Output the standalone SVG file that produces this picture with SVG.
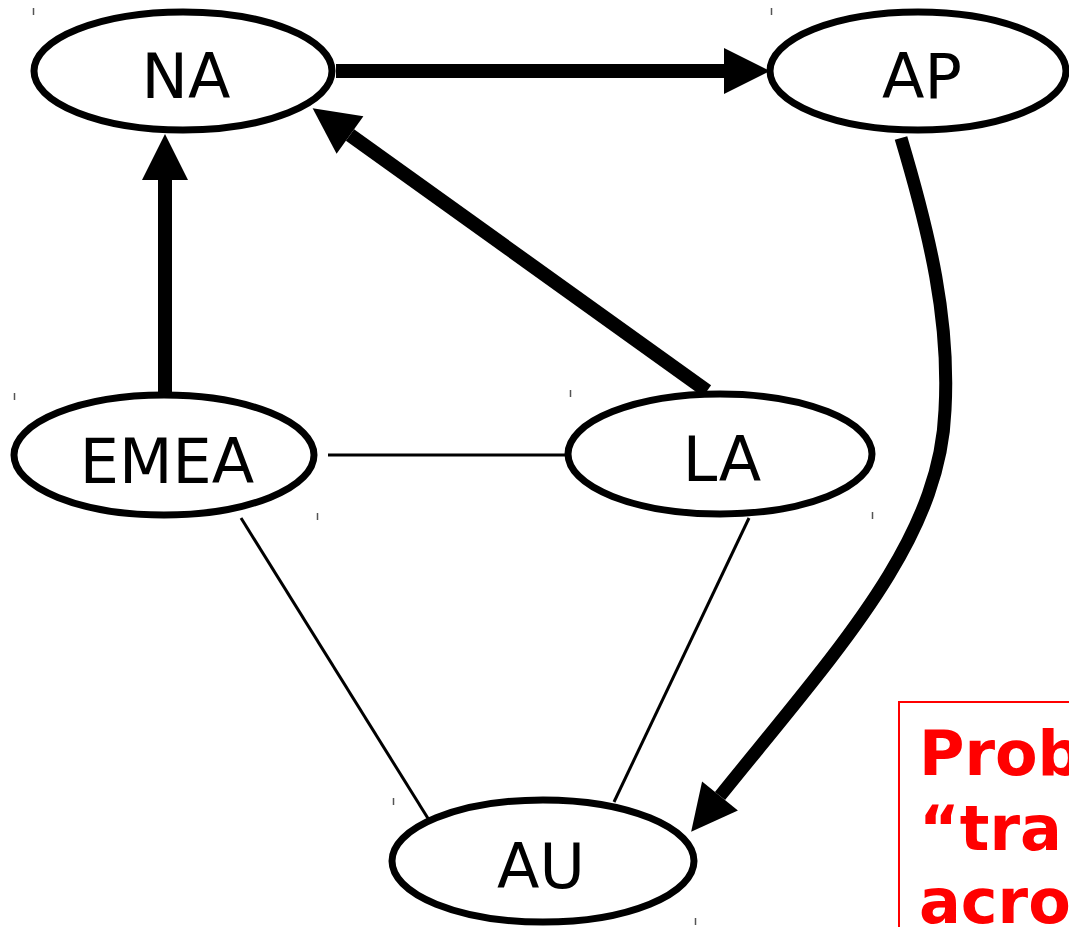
<svg xmlns="http://www.w3.org/2000/svg" width="1069" height="927" viewBox="0 0 1069 927">
<style>
.node ellipse{fill:#fff;stroke:#000;stroke-width:7}
.node text{font-family:"DejaVu Sans","Liberation Sans",sans-serif;font-size:62px;fill:#000;text-anchor:middle}
.tick{stroke:#555;stroke-width:1.5}
.thick{stroke:#000;stroke-width:14;fill:none}
.thin{stroke:#000;stroke-width:3;fill:none}
.note{font-family:"DejaVu Sans","Liberation Sans",sans-serif;font-size:62px;font-weight:bold;fill:#f00}
</style>
<defs>
<marker id="arr" markerUnits="userSpaceOnUse" markerWidth="48" markerHeight="48" refX="0" refY="23" orient="auto" overflow="visible">
<path d="M0,0 L46,23 L0,46 z" fill="#000"/>
</marker>
</defs>
<rect width="1069" height="927" fill="#fff"/>
<g id="ticks">
<line class="tick" x1="33.5" y1="8" x2="33.5" y2="15"/>
<line class="tick" x1="771.5" y1="8" x2="771.5" y2="15"/>
<line class="tick" x1="14.5" y1="393" x2="14.5" y2="400"/>
<line class="tick" x1="317.5" y1="513" x2="317.5" y2="520"/>
<line class="tick" x1="570.5" y1="390" x2="570.5" y2="397"/>
<line class="tick" x1="872.5" y1="512" x2="872.5" y2="519"/>
<line class="tick" x1="393.5" y1="798" x2="393.5" y2="805"/>
<line class="tick" x1="695.5" y1="918" x2="695.5" y2="925"/>
</g>
<g id="connectors">
<line class="thin" x1="328" y1="455" x2="567" y2="455"/>
<line class="thin" x1="241" y1="518" x2="429" y2="820"/>
<line class="thin" x1="749" y1="518" x2="614" y2="802"/>
<line class="thick" x1="336" y1="71" x2="724" y2="71" marker-end="url(#arr)"/>
<line class="thick" x1="165" y1="394" x2="165" y2="180" marker-end="url(#arr)"/>
<line class="thick" x1="707" y1="391" x2="350" y2="135" marker-end="url(#arr)"/>
<path class="thick" style="stroke-width:13" d="M901,138 C930,235 950,320 945,410 C940,540 840,647 720,796" marker-end="url(#arr)"/>
</g>
<g id="NA" class="node"><ellipse cx="183" cy="71" rx="149" ry="59"/><text x="186" y="98">NA</text></g>
<g id="AP" class="node"><ellipse cx="918" cy="71" rx="148" ry="59"/><text x="922" y="98">AP</text></g>
<g id="EMEA" class="node"><ellipse cx="164" cy="455" rx="150" ry="60"/><text x="167" y="483">EMEA</text></g>
<g id="LA" class="node"><ellipse cx="720" cy="454" rx="152" ry="60"/><text x="722" y="481">LA</text></g>
<g id="AU" class="node"><ellipse cx="543" cy="861" rx="151" ry="61"/><text x="541" y="888">AU</text></g>
<g id="note">
<rect x="899" y="702" width="200" height="260" fill="none" stroke="#f00" stroke-width="2"/>
<text class="note" x="919" y="775">Prob</text>
<text class="note" x="919" y="850">“tra</text>
<text class="note" x="919" y="923">acro</text>
</g>
</svg>
